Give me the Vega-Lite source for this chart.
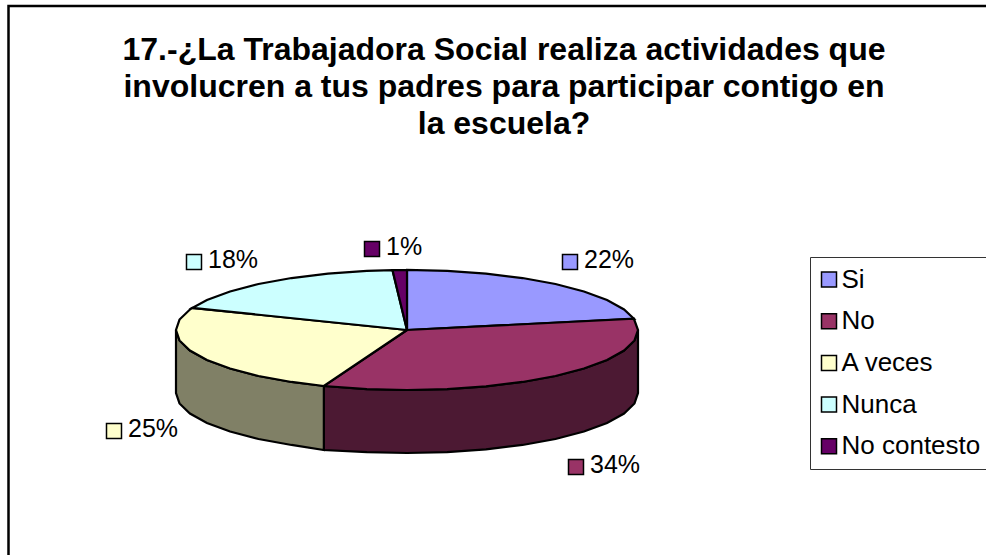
{"$schema":"https://vega.github.io/schema/vega-lite/v6.json","width":986,"height":555,"padding":0,"autosize":"none","background":"white","view":{"stroke":null},
"config":{"view":{"stroke":null}},
"title":{"text":["17.-¿La Trabajadora Social realiza actividades que","involucren a tus padres para participar contigo en","la escuela?"],"font":"Liberation Sans","fontSize":32,"fontWeight":"bold","color":"black","anchor":"middle","frame":"group","baseline":"top","dx":11,"dy":141,"lineHeight":37,"offset":0},
"datasets":{
"faces":[
{"slice":"Si","seq":0,"u":0,"v":0},{"slice":"Si","seq":1,"u":0,"v":1},{"slice":"Si","seq":2,"u":0.1736,"v":0.9848},{"slice":"Si","seq":3,"u":0.342,"v":0.9397},{"slice":"Si","seq":4,"u":0.5,"v":0.866},{"slice":"Si","seq":5,"u":0.6428,"v":0.766},{"slice":"Si","seq":6,"u":0.766,"v":0.6428},{"slice":"Si","seq":7,"u":0.866,"v":0.5},{"slice":"Si","seq":8,"u":0.9397,"v":0.342},{"slice":"Si","seq":9,"u":0.9823,"v":0.1874},{"slice":"Si","seq":10,"u":0,"v":0},
{"slice":"No","seq":0,"u":0,"v":0},{"slice":"No","seq":1,"u":0.9823,"v":0.1874},{"slice":"No","seq":2,"u":1,"v":0},{"slice":"No","seq":3,"u":0.9848,"v":-0.1736},{"slice":"No","seq":4,"u":0.9397,"v":-0.342},{"slice":"No","seq":5,"u":0.866,"v":-0.5},{"slice":"No","seq":6,"u":0.766,"v":-0.6428},{"slice":"No","seq":7,"u":0.6428,"v":-0.766},{"slice":"No","seq":8,"u":0.5,"v":-0.866},{"slice":"No","seq":9,"u":0.342,"v":-0.9397},{"slice":"No","seq":10,"u":0.1736,"v":-0.9848},{"slice":"No","seq":11,"u":0,"v":-1},{"slice":"No","seq":12,"u":-0.1736,"v":-0.9848},{"slice":"No","seq":13,"u":-0.36,"v":-0.933},{"slice":"No","seq":14,"u":0,"v":0},
{"slice":"A veces","seq":0,"u":0,"v":0},{"slice":"A veces","seq":1,"u":-0.36,"v":-0.933},{"slice":"A veces","seq":2,"u":-0.5,"v":-0.866},{"slice":"A veces","seq":3,"u":-0.6428,"v":-0.766},{"slice":"A veces","seq":4,"u":-0.766,"v":-0.6428},{"slice":"A veces","seq":5,"u":-0.866,"v":-0.5},{"slice":"A veces","seq":6,"u":-0.9397,"v":-0.342},{"slice":"A veces","seq":7,"u":-0.9848,"v":-0.1736},{"slice":"A veces","seq":8,"u":-1,"v":0},{"slice":"A veces","seq":9,"u":-0.9848,"v":0.1736},{"slice":"A veces","seq":10,"u":-0.9397,"v":0.342},{"slice":"A veces","seq":11,"u":-0.9298,"v":0.3681},{"slice":"A veces","seq":12,"u":0,"v":0},
{"slice":"Nunca","seq":0,"u":0,"v":0},{"slice":"Nunca","seq":1,"u":-0.9298,"v":0.3681},{"slice":"Nunca","seq":2,"u":-0.866,"v":0.5},{"slice":"Nunca","seq":3,"u":-0.766,"v":0.6428},{"slice":"Nunca","seq":4,"u":-0.6428,"v":0.766},{"slice":"Nunca","seq":5,"u":-0.5,"v":0.866},{"slice":"Nunca","seq":6,"u":-0.342,"v":0.9397},{"slice":"Nunca","seq":7,"u":-0.1736,"v":0.9848},{"slice":"Nunca","seq":8,"u":-0.0628,"v":0.998},{"slice":"Nunca","seq":9,"u":0,"v":0},
{"slice":"No contesto","seq":0,"u":0,"v":0},{"slice":"No contesto","seq":1,"u":-0.0628,"v":0.998},{"slice":"No contesto","seq":2,"u":0,"v":1},{"slice":"No contesto","seq":3,"u":0,"v":0}
],
"wallNo":[
{"seq":0,"u":1,"v":0},{"seq":1,"u":0.9848,"v":-0.1736},{"seq":2,"u":0.9397,"v":-0.342},{"seq":3,"u":0.866,"v":-0.5},{"seq":4,"u":0.766,"v":-0.6428},{"seq":5,"u":0.6428,"v":-0.766},{"seq":6,"u":0.5,"v":-0.866},{"seq":7,"u":0.342,"v":-0.9397},{"seq":8,"u":0.1736,"v":-0.9848},{"seq":9,"u":0,"v":-1},{"seq":10,"u":-0.1736,"v":-0.9848},{"seq":11,"u":-0.36,"v":-0.933},
{"seq":12,"u":-0.36,"v":-2.0},{"seq":13,"u":-0.1736,"v":-2.0348},{"seq":14,"u":0,"v":-2.05},{"seq":15,"u":0.1736,"v":-2.0348},{"seq":16,"u":0.342,"v":-1.9897},{"seq":17,"u":0.5,"v":-1.916},{"seq":18,"u":0.6428,"v":-1.816},{"seq":19,"u":0.766,"v":-1.6928},{"seq":20,"u":0.866,"v":-1.55},{"seq":21,"u":0.9397,"v":-1.392},{"seq":22,"u":0.9848,"v":-1.2236},{"seq":23,"u":1,"v":-1.05},{"seq":24,"u":1,"v":0}
],
"wallVeces":[
{"seq":0,"u":-0.36,"v":-0.933},{"seq":1,"u":-0.5,"v":-0.866},{"seq":2,"u":-0.6428,"v":-0.766},{"seq":3,"u":-0.766,"v":-0.6428},{"seq":4,"u":-0.866,"v":-0.5},{"seq":5,"u":-0.9397,"v":-0.342},{"seq":6,"u":-0.9848,"v":-0.1736},{"seq":7,"u":-1,"v":0},
{"seq":8,"u":-1,"v":-1.05},{"seq":9,"u":-0.9848,"v":-1.2236},{"seq":10,"u":-0.9397,"v":-1.392},{"seq":11,"u":-0.866,"v":-1.55},{"seq":12,"u":-0.766,"v":-1.6928},{"seq":13,"u":-0.6428,"v":-1.816},{"seq":14,"u":-0.5,"v":-1.916},{"seq":15,"u":-0.36,"v":-2.0},{"seq":16,"u":-0.36,"v":-0.933}
],
"frame":[{"seq":0,"u":-1.7251,"v":-3.75},{"seq":1,"u":-1.7251,"v":5.4},{"seq":2,"u":2.5065,"v":5.4}],
"labels":[
{"slice":"Si","label":"22%","u":0.7056,"v":1.133},
{"slice":"No","label":"34%","u":0.7316,"v":-2.283},
{"slice":"A veces","label":"25%","u":-1.2684,"v":-1.683},
{"slice":"Nunca","label":"18%","u":-0.9221,"v":1.133},
{"slice":"No contesto","label":"1%","u":-0.1515,"v":1.35}
]},
"encoding":{
"x":{"field":"u","type":"quantitative","axis":null,"scale":{"domain":[-1.7619,2.5065],"nice":false,"zero":false}},
"y":{"field":"v","type":"quantitative","axis":null,"scale":{"domain":[-3.75,5.5],"nice":false,"zero":false}}
},
"layer":[
{"data":{"name":"frame"},"mark":{"type":"line","stroke":"black","strokeWidth":2.5,"clip":false},"encoding":{"order":{"field":"seq"}}},
{"data":{"name":"wallNo"},"mark":{"type":"line","fill":"#4C1933","stroke":"black","strokeWidth":2.2},"encoding":{"order":{"field":"seq"}}},
{"data":{"name":"wallVeces"},"mark":{"type":"line","fill":"#808066","stroke":"black","strokeWidth":2.2},"encoding":{"order":{"field":"seq"}}},
{"data":{"name":"faces"},"mark":{"type":"line","stroke":"black","strokeWidth":2.2},"encoding":{"order":{"field":"seq"},
"fill":{"field":"slice","type":"nominal","scale":{"domain":["Si","No","A veces","Nunca","No contesto"],"range":["#9999FF","#993366","#FFFFCC","#CCFFFF","#660066"]},
"legend":{"title":null,"orient":"none","legendX":810,"legendY":257,"strokeColor":"#333333","fillColor":"white","padding":9.5,"symbolType":"square","symbolSize":225,"symbolOffset":-3.5,"symbolStrokeColor":"black","symbolStrokeWidth":1.5,"labelFont":"Liberation Sans","labelFontSize":26,"labelColor":"black","rowPadding":15.7,"labelOffset":-0.5,"values":["Si","No","A veces","Nunca","No contesto"]}}}},
{"data":{"name":"labels"},"mark":{"type":"point","shape":"square","filled":true,"size":225,"stroke":"black","strokeWidth":1.5,"opacity":1},"encoding":{"fill":{"field":"slice","type":"nominal"}}},
{"data":{"name":"labels"},"mark":{"type":"text","align":"left","baseline":"middle","dx":14,"dy":-2,"font":"Liberation Sans","fontSize":25,"color":"black"},"encoding":{"text":{"field":"label","type":"nominal"}}}
]}
